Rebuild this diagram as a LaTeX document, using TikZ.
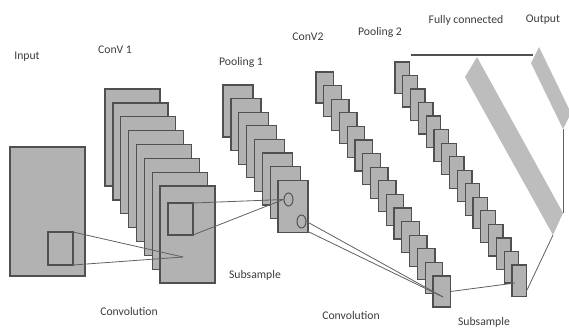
\documentclass[tikz,border=0pt]{standalone}
\usepackage{fontspec}
\setmainfont{Carlito}
\usetikzlibrary{shapes.geometric}
\definecolor{mapfill}{HTML}{B2B2B2}
\definecolor{mapline}{HTML}{505050}
\definecolor{barfill}{HTML}{BDBDBD}
\definecolor{wire}{HTML}{606060}
\definecolor{txt}{HTML}{3C3C3C}
\begin{document}
\begin{tikzpicture}[x=1pt,y=-1pt,
  fmap/.style={draw=mapline,fill=mapfill,line width=1.3pt,inner sep=0pt,outer sep=0pt,anchor=north west},
  win/.style={draw=mapline,line width=1.2pt,inner sep=0pt,outer sep=0pt,anchor=north west},
  blob/.style={ellipse,draw=mapline,fill=mapfill,line width=1pt,inner sep=0pt,minimum width=9pt,minimum height=13pt},
  wireline/.style={draw=wire,line width=0.8pt},
  lbl/.style={text=txt,font=\fontsize{11.7}{13}\selectfont,inner sep=0pt}]
\useasboundingbox (0,0) rectangle (569,331);
% input
\node[fmap,minimum width=75pt,minimum height=129pt] (in) at (10,147) {};
\node[win,minimum width=25pt,minimum height=33pt] (insq) at (48,232) {};
% conv1
\foreach \i in {1,...,8}
  \node[fmap,minimum width=55pt,minimum height=97pt] (cA\i) at ({105+7.86*(\i-1)},{89+13.86*(\i-1)}) {};
\node[win,minimum width=25pt,minimum height=32pt] (csq) at (168,203) {};
% pooling1
\foreach \i in {1,...,8}
  \node[fmap,minimum width=30pt,minimum height=52pt] (pA\i) at ({223+7.86*(\i-1)},{85+13.6*(\i-1)}) {};
\node[blob] (e1) at (288.5,199.5) {};
\node[blob] (e2) at (301.5,221.5) {};
% conv2
\foreach \i in {1,...,16}
  \node[fmap,minimum width=17.5pt,minimum height=31pt] (cB\i) at ({316+7.8*(\i-1)},{72+13.6*(\i-1)}) {};
% pooling2
\foreach \i in {1,...,16}
  \node[fmap,minimum width=14.5pt,minimum height=31.5pt] (pB\i) at ({395+7.8*(\i-1)},{62+13.53*(\i-1)}) {};
% bars
\coordinate (fcT) at (477,57);
\coordinate (fcR) at (563,213);
\coordinate (fcB) at (553,235);
\coordinate (fcL) at (465,77);
\fill[barfill] (fcT) -- (fcR) -- (fcB) -- (fcL) -- cycle;
\coordinate (oT) at (539,47);
\coordinate (oR) at (571,113);
\coordinate (oB) at (563,129);
\coordinate (oL) at (531,63);
\begin{scope}
\clip (0,0) rectangle (569,331);
\fill[barfill] (oT) -- (oR) -- (oB) -- (oL) -- cycle;
\end{scope}
% connectors
\coordinate (c1) at (183,257);
\draw[wireline] (insq.north east) -- (c1);
\draw[wireline] (insq.south east) -- (c1);
\draw[wireline] (csq.north east) -- (e1.west);
\draw[wireline] (csq.south east) -- (e1.west);
\coordinate (c2) at (443,297);
\coordinate (e2b) at (307,231);
\draw[wireline] (e2.east) -- (c2);
\draw[wireline] (e2b) -- (c2);
\coordinate (c3) at (515,283);
\draw[wireline] (cB16.east) -- (c3);
\coordinate (tl1) at (411,55);
\coordinate (tl2) at (533,55);
\draw[draw=mapline,line width=1.3pt] (tl1) -- (tl2);
\draw[wireline] (oB) -- (fcR);
\coordinate (p2e) at (527,290);
\draw[wireline] (fcB) -- (p2e);
% labels
\node[lbl] (t1) at (27,57) {Input};
\node[lbl] (t2) at (115,50) {ConV 1};
\node[lbl] (t3) at (241,62) {Pooling 1};
\node[lbl] (t4) at (308,37) {ConV2};
\node[lbl] (t5) at (380,32) {Pooling 2};
\node[lbl] (t6) at (466,20) {Fully connected};
\node[lbl] (t7) at (543,20) {Output};
\node[lbl] (t8) at (255,275) {Subsample};
\node[lbl] (t9) at (129,311) {Convolution};
\node[lbl] (t10) at (351,315) {Convolution};
\node[lbl] (t11) at (484,322) {Subsample};
\end{tikzpicture}
\end{document}
